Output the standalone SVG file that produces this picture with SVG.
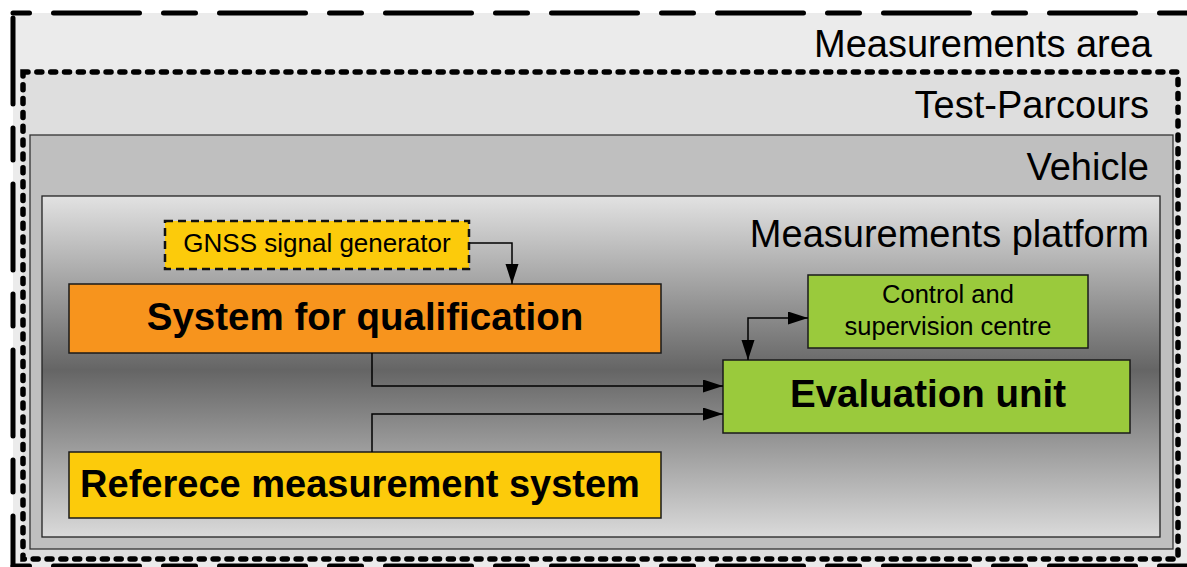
<svg xmlns="http://www.w3.org/2000/svg" width="1187" height="567" viewBox="0 0 1187 567">
<defs>
<linearGradient id="platGrad" x1="0" y1="0" x2="0" y2="1">
<stop offset="0" stop-color="#e2e2e2"/>
<stop offset="0.51" stop-color="#656565"/>
<stop offset="1" stop-color="#dadada"/>
</linearGradient>
<marker id="arr" markerUnits="userSpaceOnUse" markerWidth="21" markerHeight="14" refX="20" refY="6.5" orient="auto-start-reverse" viewBox="0 0 21 14">
<path d="M0,0 L20,6.5 L0,13 z" fill="#000"/>
</marker>
<style>
.lbl{font-family:"Liberation Sans",Arial,sans-serif;font-size:38px;fill:#000;text-anchor:end}
.big{font-family:"Liberation Sans",Arial,sans-serif;font-size:38.5px;font-weight:bold;fill:#000;text-anchor:middle}
.small{font-family:"Liberation Sans",Arial,sans-serif;font-size:25.5px;fill:#000;text-anchor:middle}
.box{stroke:#1a1a1a;stroke-width:1.5}
.con{fill:none;stroke:#000;stroke-width:1.5}
.outer{fill:none;stroke:#000;stroke-width:5;stroke-linecap:round;stroke-dasharray:32 24 86 24}
</style>
</defs>
<rect width="1187" height="567" fill="#fff"/>
<g id="measurements-area">
<rect x="13" y="13" width="1190" height="560" fill="#ebebeb"/>
<line class="outer" x1="13" y1="13" x2="1200" y2="13" stroke-dashoffset="15.5"/>
<line class="outer" x1="13" y1="18" x2="13" y2="566" style="stroke-dasharray:86 24 32 24"/>
<line class="outer" x1="13" y1="566" x2="1200" y2="566" stroke-dashoffset="15.5"/>
<text class="lbl" x="1152" y="57">Measurements area</text>
</g>
<g id="test-parcours">
<rect x="23" y="72" width="1155" height="487" fill="#dedede" stroke="#000" stroke-width="5.5" stroke-linecap="round" stroke-dasharray="5 8.84"/>
<text class="lbl" x="1149" y="118">Test-Parcours</text>
</g>
<g id="vehicle">
<rect x="30" y="135" width="1143" height="414" fill="#bfbfbf" stroke="#333" stroke-width="1.3"/>
<text class="lbl" x="1149" y="180">Vehicle</text>
</g>
<g id="measurements-platform">
<rect x="42" y="196" width="1118" height="341" fill="url(#platGrad)" stroke="#222" stroke-width="1.3"/>
<text class="lbl" x="1149" y="247">Measurements platform</text>
</g>
<g id="gnss-signal-generator">
<rect x="165" y="221" width="304" height="48" fill="#fccb0b" stroke="#111" stroke-width="2.5" stroke-dasharray="8 5"/>
<text class="small" x="317" y="252" style="font-size:26px">GNSS signal generator</text>
</g>
<g id="system-for-qualification">
<rect class="box" x="69" y="284" width="592" height="69" fill="#f7941d"/>
<text class="big" x="365" y="330">System for qualification</text>
</g>
<g id="reference-measurement-system">
<rect class="box" x="69" y="452" width="592" height="66" fill="#fccb0b"/>
<text class="big" x="360" y="497" style="font-size:38px">Referece measurement system</text>
</g>
<g id="control-and-supervision-centre">
<rect class="box" x="808" y="275" width="280" height="73" fill="#9aca3c"/>
<text class="small" x="948" y="303">Control and</text>
<text class="small" x="948" y="335">supervision centre</text>
</g>
<g id="evaluation-unit">
<rect class="box" x="723" y="360" width="407" height="73" fill="#9aca3c"/>
<text class="big" x="928" y="407">Evaluation unit</text>
</g>
<g id="connectors">
<path class="con" d="M469,243 H512 V284" marker-end="url(#arr)"/>
<path class="con" d="M372,353 V386 H723" marker-end="url(#arr)"/>
<path class="con" d="M372,452 V414 H723" marker-end="url(#arr)"/>
<path class="con" d="M748,360 V318 H808" marker-start="url(#arr)" marker-end="url(#arr)"/>
</g>
</svg>
